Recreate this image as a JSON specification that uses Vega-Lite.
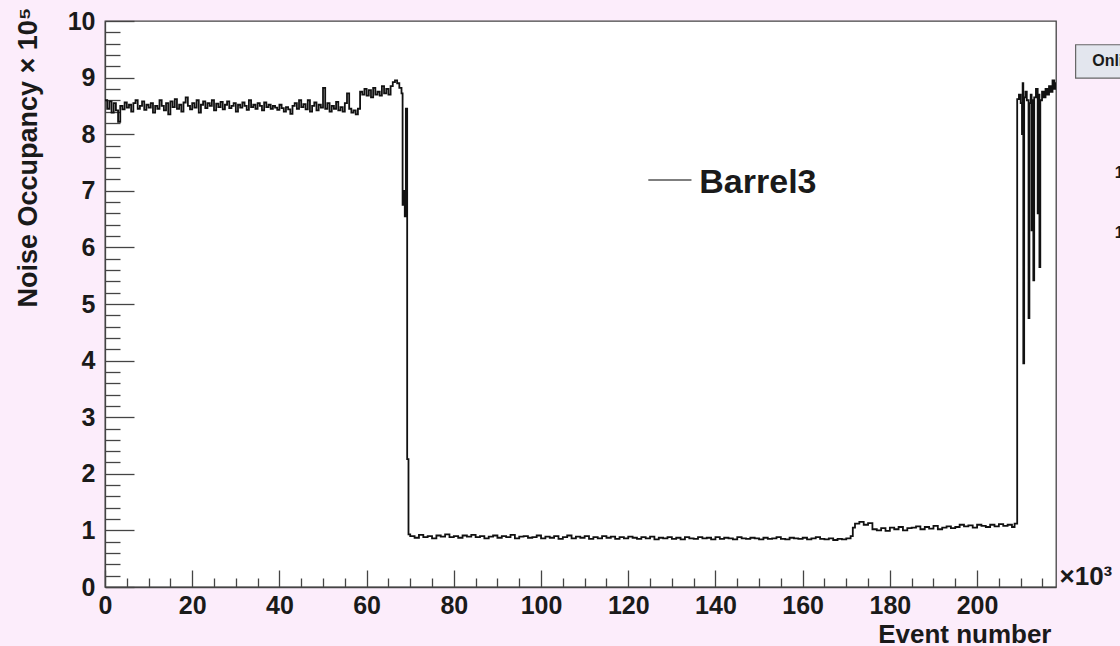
{
  "$schema": "https://vega.github.io/schema/vega-lite/v6.json",
  "width": 951,
  "height": 566,
  "autosize": {"type": "none"},
  "padding": {"left": 105, "top": 21, "right": 64, "bottom": 59},
  "background": "#fcedfb",
  "config": {
    "view": {"fill": "white", "stroke": "#444", "strokeWidth": 1.3},
    "axis": {"grid": false, "domainColor": "#444", "domainWidth": 1.3, "tickColor": "#444", "tickWidth": 1.3,
             "labelFont": "Liberation Sans", "labelFontWeight": "bold", "labelFontSize": 25, "labelColor": "#1a1a1a",
             "titleFont": "Liberation Sans", "titleFontWeight": "bold", "titleColor": "#1a1a1a"}
  },
  "layer": [
    {
      "data": {"values": [
        {"x":0,"y":8.6},{"x":0.5,"y":8.45},{"x":1,"y":8.58},{"x":1.5,"y":8.38},{"x":2,"y":8.55},{"x":2.5,"y":8.42},{"x":3,"y":8.22},{"x":3.5,"y":8.5},
        {"x":4,"y":8.44},{"x":4.5,"y":8.56},{"x":5,"y":8.47},{"x":5.5,"y":8.52},{"x":6,"y":8.4},{"x":6.5,"y":8.55},{"x":7,"y":8.6},{"x":7.5,"y":8.45},
        {"x":8,"y":8.5},{"x":8.5,"y":8.58},{"x":9,"y":8.43},{"x":9.5,"y":8.52},{"x":10,"y":8.47},{"x":10.5,"y":8.55},{"x":11,"y":8.38},{"x":11.5,"y":8.5},
        {"x":12,"y":8.45},{"x":12.5,"y":8.6},{"x":13,"y":8.5},{"x":13.5,"y":8.42},{"x":14,"y":8.55},{"x":14.5,"y":8.35},{"x":15,"y":8.58},{"x":15.5,"y":8.48},
        {"x":16,"y":8.62},{"x":16.5,"y":8.45},{"x":17,"y":8.52},{"x":17.5,"y":8.4},{"x":18,"y":8.56},{"x":18.5,"y":8.65},{"x":19,"y":8.5},{"x":19.5,"y":8.44},
        {"x":20,"y":8.55},{"x":20.5,"y":8.47},{"x":21,"y":8.6},{"x":21.5,"y":8.38},{"x":22,"y":8.52},{"x":22.5,"y":8.58},{"x":23,"y":8.46},{"x":23.5,"y":8.55},
        {"x":24,"y":8.5},{"x":24.5,"y":8.6},{"x":25,"y":8.42},{"x":25.5,"y":8.54},{"x":26,"y":8.48},{"x":26.5,"y":8.57},{"x":27,"y":8.44},{"x":27.5,"y":8.52},
        {"x":28,"y":8.58},{"x":28.5,"y":8.46},{"x":29,"y":8.5},{"x":29.5,"y":8.55},{"x":30,"y":8.4},{"x":30.5,"y":8.52},{"x":31,"y":8.47},{"x":31.5,"y":8.56},
        {"x":32,"y":8.5},{"x":32.5,"y":8.43},{"x":33,"y":8.6},{"x":33.5,"y":8.48},{"x":34,"y":8.52},{"x":34.5,"y":8.45},{"x":35,"y":8.55},{"x":35.5,"y":8.5},
        {"x":36,"y":8.42},{"x":36.5,"y":8.56},{"x":37,"y":8.48},{"x":37.5,"y":8.52},{"x":38,"y":8.45},{"x":38.5,"y":8.5},{"x":39,"y":8.47},{"x":39.5,"y":8.43},
        {"x":40,"y":8.52},{"x":40.5,"y":8.46},{"x":41,"y":8.4},{"x":41.5,"y":8.48},{"x":42,"y":8.44},{"x":42.5,"y":8.36},{"x":43,"y":8.5},{"x":43.5,"y":8.55},
        {"x":44,"y":8.45},{"x":44.5,"y":8.6},{"x":45,"y":8.48},{"x":45.5,"y":8.53},{"x":46,"y":8.44},{"x":46.5,"y":8.6},{"x":47,"y":8.4},{"x":47.5,"y":8.5},
        {"x":48,"y":8.56},{"x":48.5,"y":8.42},{"x":49,"y":8.52},{"x":49.5,"y":8.47},{"x":50,"y":8.82},{"x":50.5,"y":8.45},{"x":51,"y":8.55},{"x":51.5,"y":8.4},
        {"x":52,"y":8.5},{"x":52.5,"y":8.45},{"x":53,"y":8.57},{"x":53.5,"y":8.42},{"x":54,"y":8.48},{"x":54.5,"y":8.4},{"x":55,"y":8.55},{"x":55.5,"y":8.72},
        {"x":56,"y":8.45},{"x":56.5,"y":8.38},{"x":57,"y":8.42},{"x":57.5,"y":8.35},{"x":58,"y":8.45},{"x":58.5,"y":8.75},{"x":59,"y":8.7},{"x":59.5,"y":8.8},
        {"x":60,"y":8.68},{"x":60.5,"y":8.78},{"x":61,"y":8.65},{"x":61.5,"y":8.82},{"x":62,"y":8.7},{"x":62.5,"y":8.75},{"x":63,"y":8.68},{"x":63.5,"y":8.85},
        {"x":64,"y":8.72},{"x":64.5,"y":8.8},{"x":65,"y":8.7},{"x":65.5,"y":8.85},{"x":66,"y":8.92},{"x":66.5,"y":8.95},{"x":67,"y":8.9},{"x":67.5,"y":8.82},
        {"x":68,"y":8.72},{"x":68.25,"y":6.75},{"x":68.5,"y":7.0},{"x":68.75,"y":6.55},{"x":69,"y":8.45},{"x":69.3,"y":2.26},{"x":69.6,"y":0.93},
        {"x":70,"y":0.9},{"x":71,"y":0.87},{"x":72,"y":0.92},{"x":73,"y":0.88},{"x":74,"y":0.9},{"x":75,"y":0.86},{"x":76,"y":0.91},{"x":77,"y":0.89},
        {"x":78,"y":0.93},{"x":79,"y":0.88},{"x":80,"y":0.9},{"x":81,"y":0.87},{"x":82,"y":0.91},{"x":83,"y":0.89},{"x":84,"y":0.92},{"x":85,"y":0.88},
        {"x":86,"y":0.9},{"x":87,"y":0.86},{"x":88,"y":0.89},{"x":89,"y":0.91},{"x":90,"y":0.87},{"x":91,"y":0.9},{"x":92,"y":0.88},{"x":93,"y":0.92},
        {"x":94,"y":0.86},{"x":95,"y":0.89},{"x":96,"y":0.9},{"x":97,"y":0.87},{"x":98,"y":0.88},{"x":99,"y":0.91},{"x":100,"y":0.86},{"x":101,"y":0.89},
        {"x":102,"y":0.87},{"x":103,"y":0.9},{"x":104,"y":0.85},{"x":105,"y":0.88},{"x":106,"y":0.91},{"x":107,"y":0.86},{"x":108,"y":0.89},{"x":109,"y":0.87},
        {"x":110,"y":0.9},{"x":111,"y":0.85},{"x":112,"y":0.88},{"x":113,"y":0.86},{"x":114,"y":0.9},{"x":115,"y":0.87},{"x":116,"y":0.89},{"x":117,"y":0.85},
        {"x":118,"y":0.88},{"x":119,"y":0.86},{"x":120,"y":0.89},{"x":121,"y":0.87},{"x":122,"y":0.85},{"x":123,"y":0.88},{"x":124,"y":0.86},{"x":125,"y":0.89},
        {"x":126,"y":0.84},{"x":127,"y":0.87},{"x":128,"y":0.86},{"x":129,"y":0.88},{"x":130,"y":0.85},{"x":131,"y":0.87},{"x":132,"y":0.84},{"x":133,"y":0.88},
        {"x":134,"y":0.86},{"x":135,"y":0.85},{"x":136,"y":0.88},{"x":137,"y":0.86},{"x":138,"y":0.87},{"x":139,"y":0.84},{"x":140,"y":0.88},{"x":141,"y":0.85},
        {"x":142,"y":0.87},{"x":143,"y":0.86},{"x":144,"y":0.84},{"x":145,"y":0.88},{"x":146,"y":0.86},{"x":147,"y":0.85},{"x":148,"y":0.87},{"x":149,"y":0.86},
        {"x":150,"y":0.84},{"x":151,"y":0.87},{"x":152,"y":0.85},{"x":153,"y":0.86},{"x":154,"y":0.88},{"x":155,"y":0.85},{"x":156,"y":0.84},{"x":157,"y":0.87},
        {"x":158,"y":0.86},{"x":159,"y":0.85},{"x":160,"y":0.87},{"x":161,"y":0.84},{"x":162,"y":0.86},{"x":163,"y":0.88},{"x":164,"y":0.85},{"x":165,"y":0.84},
        {"x":166,"y":0.86},{"x":167,"y":0.83},{"x":168,"y":0.85},{"x":169,"y":0.84},{"x":170,"y":0.86},{"x":171,"y":0.9},{"x":171.5,"y":1.05},{"x":172,"y":1.12},
        {"x":173,"y":1.15},{"x":174,"y":1.1},{"x":175,"y":1.13},{"x":176,"y":1.02},{"x":177,"y":1.0},{"x":178,"y":1.04},{"x":179,"y":0.99},{"x":180,"y":1.05},
        {"x":181,"y":1.02},{"x":182,"y":1.06},{"x":183,"y":1.0},{"x":184,"y":1.04},{"x":185,"y":1.05},{"x":186,"y":1.07},{"x":187,"y":1.02},{"x":188,"y":1.06},
        {"x":189,"y":1.03},{"x":190,"y":1.08},{"x":191,"y":1.02},{"x":192,"y":1.05},{"x":193,"y":1.07},{"x":194,"y":1.04},{"x":195,"y":1.06},{"x":196,"y":1.1},
        {"x":197,"y":1.07},{"x":198,"y":1.09},{"x":199,"y":1.05},{"x":200,"y":1.1},{"x":201,"y":1.08},{"x":202,"y":1.06},{"x":203,"y":1.1},{"x":204,"y":1.07},
        {"x":205,"y":1.11},{"x":206,"y":1.08},{"x":207,"y":1.1},{"x":208,"y":1.06},{"x":208.6,"y":1.12},
        {"x":209.2,"y":8.62},{"x":209.6,"y":8.7},{"x":210.0,"y":8.55},{"x":210.3,"y":8.0},{"x":210.45,"y":8.9},{"x":210.6,"y":3.95},{"x":210.8,"y":8.65},
        {"x":211.1,"y":8.75},{"x":211.4,"y":8.6},{"x":211.8,"y":4.75},{"x":212.0,"y":8.55},{"x":212.3,"y":8.7},{"x":212.5,"y":6.3},{"x":212.7,"y":8.6},
        {"x":212.9,"y":5.42},{"x":213.1,"y":8.65},{"x":213.5,"y":8.8},{"x":213.9,"y":6.6},{"x":214.1,"y":8.7},{"x":214.3,"y":5.65},{"x":214.5,"y":8.6},
        {"x":214.9,"y":8.75},{"x":215.3,"y":8.65},{"x":215.7,"y":8.8},{"x":216.1,"y":8.7},{"x":216.5,"y":8.85},{"x":216.9,"y":8.75},{"x":217.3,"y":8.95},
        {"x":217.7,"y":8.8},{"x":218.0,"y":8.9},{"x":218.5,"y":8.9}
      ]},
      "mark": {"type": "line", "interpolate": "step-after", "color": "#111", "strokeWidth": 1.8, "clip": true},
      "encoding": {
        "x": {"field": "x", "type": "quantitative", "scale": {"domain": [0, 218.1], "nice": false, "zero": false},
          "axis": {"values": [0,5,10,15,20,25,30,35,40,45,50,55,60,65,70,75,80,85,90,95,100,105,110,115,120,125,130,135,140,145,150,155,160,165,170,175,180,185,190,195,200,205,210,215],
            "tickCount": 200,
            "labelExpr": "datum.value % 20 === 0 ? format(datum.value, 'd') : ''",
            "tickSize": {"condition": {"test": "datum.value % 20 === 0", "value": -17}, "value": -9},
            "labelPadding": 23, "labelFlush": false, "labelOverlap": false,
            "title": "Event number", "titleFontSize": 26, "titleAnchor": "end", "titleAlign": "right", "titleBaseline": "alphabetic",
            "titleX": 946, "titleY": 55, "titleAngle": 0}},
        "y": {"field": "y", "type": "quantitative", "scale": {"domain": [0, 10], "nice": false, "zero": false},
          "axis": {"values": [0,0.2,0.4,0.6,0.8,1,1.2,1.4,1.6,1.8,2,2.2,2.4,2.6,2.8,3,3.2,3.4,3.6,3.8,4,4.2,4.4,4.6,4.8,5,5.2,5.4,5.6,5.8,6,6.2,6.4,6.6,6.8,7,7.2,7.4,7.6,7.8,8,8.2,8.4,8.6,8.8,9,9.2,9.4,9.6,9.8,10],
            "tickCount": 200,
            "labelExpr": "abs(datum.value - round(datum.value)) < 0.01 ? format(datum.value, 'd') : ''",
            "tickSize": {"condition": {"test": "abs(datum.value - round(datum.value)) < 0.01", "value": -29}, "value": -15},
            "labelPadding": 39, "labelFlush": false, "labelOverlap": false,
            "title": "Noise Occupancy × 10⁵", "titleFontSize": 27, "titleAngle": -90, "titleAnchor": "end", "titleAlign": "right",
            "titleBaseline": "alphabetic", "titleX": -69, "titleY": -14}}
      }
    },
    {
      "data": {"values": [{"x": 124.6, "y": 7.19}, {"x": 134.5, "y": 7.19}]},
      "mark": {"type": "line", "color": "#555", "strokeWidth": 1.6},
      "encoding": {
        "x": {"field": "x", "type": "quantitative", "scale": {"domain": [0, 218.1], "nice": false, "zero": false}},
        "y": {"field": "y", "type": "quantitative", "scale": {"domain": [0, 10], "nice": false, "zero": false}}
      }
    },
    {
      "data": {"values": [{"x": 136.3, "y": 6.96, "label": "Barrel3"}]},
      "mark": {"type": "text", "align": "left", "baseline": "alphabetic", "font": "Liberation Sans", "fontWeight": "bold", "fontSize": 34, "color": "#1a1a1a"},
      "encoding": {
        "x": {"field": "x", "type": "quantitative", "scale": {"domain": [0, 218.1], "nice": false, "zero": false}},
        "y": {"field": "y", "type": "quantitative", "scale": {"domain": [0, 10], "nice": false, "zero": false}},
        "text": {"field": "label"}
      }
    },
    {
      "data": {"values": [{"x": 218.9, "y": 0.035, "label": "×10³"}]},
      "mark": {"type": "text", "align": "left", "baseline": "alphabetic", "font": "Liberation Sans", "fontWeight": "bold", "fontSize": 26, "color": "#1a1a1a"},
      "encoding": {
        "x": {"field": "x", "type": "quantitative", "scale": {"domain": [0, 218.1], "nice": false, "zero": false}},
        "y": {"field": "y", "type": "quantitative", "scale": {"domain": [0, 10], "nice": false, "zero": false}},
        "text": {"field": "label"}
      }
    },
    {
      "data": {"values": [{"x": 222.6, "x2": 236, "y": 9.58, "y2": 8.99}]},
      "mark": {"type": "rect", "fill": "#e3e6ee", "stroke": "#666", "strokeWidth": 1.2},
      "encoding": {
        "x": {"field": "x", "type": "quantitative", "scale": {"domain": [0, 218.1], "nice": false, "zero": false}},
        "x2": {"field": "x2"},
        "y": {"field": "y", "type": "quantitative", "scale": {"domain": [0, 10], "nice": false, "zero": false}},
        "y2": {"field": "y2"}
      }
    },
    {
      "data": {"values": [{"x": 226.4, "y": 9.2, "label": "Online"}, {"x": 231.6, "y": 7.23, "label": "1"}, {"x": 231.6, "y": 6.17, "label": "1"}]},
      "mark": {"type": "text", "align": "left", "baseline": "alphabetic", "font": "Liberation Sans", "fontWeight": "bold", "fontSize": 16, "color": "#1a1a1a"},
      "encoding": {
        "x": {"field": "x", "type": "quantitative", "scale": {"domain": [0, 218.1], "nice": false, "zero": false}},
        "y": {"field": "y", "type": "quantitative", "scale": {"domain": [0, 10], "nice": false, "zero": false}},
        "text": {"field": "label"}
      }
    }
  ]
}
